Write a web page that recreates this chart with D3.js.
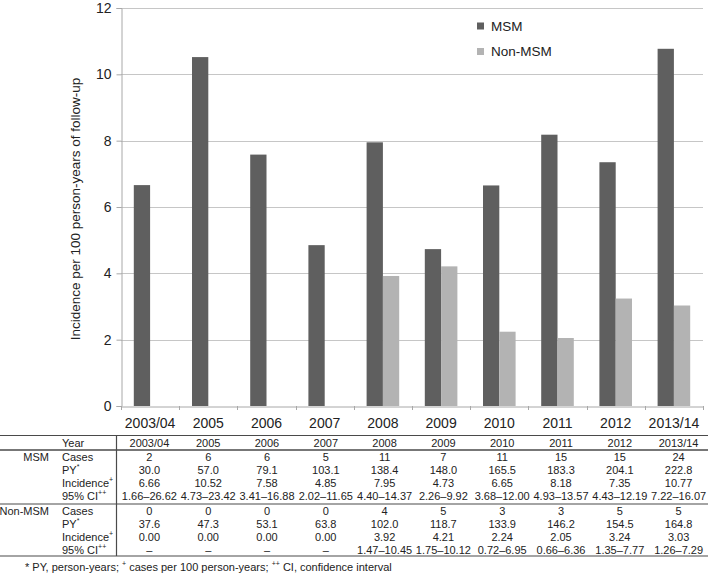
<!DOCTYPE html>
<html>
<head>
<meta charset="utf-8">
<script src="https://cdn.jsdelivr.net/npm/d3@7"></script>
<style>
  html, body { margin: 0; padding: 0; background: #fff; }
  svg { display: block; font-family: "Liberation Sans", Arial, Helvetica, sans-serif; }
</style>
</head>
<body>
<svg id="chart" width="708" height="574"></svg>
<script>
// ---------- data ----------
const years = ["2003/04", "2005", "2006", "2007", "2008", "2009", "2010", "2011", "2012", "2013/14"];
const seriesNames = ["MSM", "Non-MSM"];
const msmIncidence = [6.66, 10.52, 7.58, 4.85, 7.95, 4.73, 6.65, 8.18, 7.35, 10.77];
const nonMsmIncidence = [0, 0, 0, 0, 3.92, 4.21, 2.24, 2.05, 3.24, 3.03];
const yTicks = [0, 2, 4, 6, 8, 10, 12];
const yTitle = "Incidence per 100 person-years of follow-up";

const msmCases = ["2", "6", "6", "5", "11", "7", "11", "15", "15", "24"];
const msmPY = ["30.0", "57.0", "79.1", "103.1", "138.4", "148.0", "165.5", "183.3", "204.1", "222.8"];
const msmInc = ["6.66", "10.52", "7.58", "4.85", "7.95", "4.73", "6.65", "8.18", "7.35", "10.77"];
const msmCI = ["1.66–26.62", "4.73–23.42", "3.41–16.88", "2.02–11.65", "4.40–14.37", "2.26–9.92", "3.68–12.00", "4.93–13.57", "4.43–12.19", "7.22–16.07"];
const nonCases = ["0", "0", "0", "0", "4", "5", "3", "3", "5", "5"];
const nonPY = ["37.6", "47.3", "53.1", "63.8", "102.0", "118.7", "133.9", "146.2", "154.5", "164.8"];
const nonInc = ["0.00", "0.00", "0.00", "0.00", "3.92", "4.21", "2.24", "2.05", "3.24", "3.03"];
const nonCI = ["–", "–", "–", "–", "1.47–10.45", "1.75–10.12", "0.72–6.95", "0.66–6.36", "1.35–7.77", "1.26–7.29"];
const rowLabels = [["Year", ""], ["Cases", ""], ["PY", "*"], ["Incidence", "+"], ["95% CI", "++"]];
const footnoteParts = [["* PY, person-years; ", false], ["+", true], [" cases per 100 person-years; ", false], ["++", true], [" CI, confidence interval", false]];

// ---------- setup ----------
const svg = d3.select("#chart");
const colors = { "MSM": "#5f5f5f", "Non-MSM": "#b3b3b3" };
const textColor = "#222";

const x = d3.scaleBand().domain(years).range([121, 703]).paddingInner(0).paddingOuter(0);
const y = d3.scaleLinear().domain([0, 12]).range([406, 8]);
const groupW = x.bandwidth() * 0.56;
const xs = d3.scaleBand().domain(seriesNames).range([0, groupW]);

// gridlines
svg.append("g").selectAll("line").data(yTicks.filter(d => d > 0)).join("line")
  .attr("x1", 121).attr("x2", 703)
  .attr("y1", d => Math.round(y(d)) + 0.5).attr("y2", d => Math.round(y(d)) + 0.5)
  .attr("stroke", "#c6c6c6").attr("stroke-width", 1);

// y axis
const yAxis = d3.axisLeft(y).tickValues(yTicks).tickSize(5).tickPadding(5).tickFormat(d3.format("d"));
const gy = svg.append("g").attr("transform", "translate(121.5,0)").call(yAxis);
gy.select(".domain").attr("stroke", "#a8a8a8");
gy.selectAll(".tick line").attr("stroke", "#a8a8a8");
gy.selectAll(".tick text").attr("fill", textColor).style("font-size", "14px")
  .style("font-family", "'Liberation Sans', Arial, sans-serif");

// bars
const data = years.map((yr, i) => ({ year: yr, values: [
  { s: "MSM", v: msmIncidence[i] }, { s: "Non-MSM", v: nonMsmIncidence[i] }] }));
const groups = svg.append("g").selectAll("g").data(data).join("g")
  .attr("transform", d => `translate(${x(d.year) + (x.bandwidth() - groupW) / 2},0)`);
groups.selectAll("rect").data(d => d.values.filter(e => e.v > 0)).join("rect")
  .attr("x", d => xs(d.s)).attr("width", xs.bandwidth())
  .attr("y", d => y(d.v)).attr("height", d => y(0) - y(d.v))
  .attr("fill", d => colors[d.s]);

// x axis
const xAxis = d3.axisBottom(x).tickSize(0).tickPadding(12);
const gx = svg.append("g").attr("transform", `translate(0,${y(0) + 0.5})`).call(xAxis);
gx.select(".domain").attr("stroke", "#a8a8a8");
gx.selectAll(".tick text").attr("fill", textColor).style("font-size", "14px")
  .style("font-family", "'Liberation Sans', Arial, sans-serif");
// boundary ticks
const bounds = years.map(d => x(d)).concat([x.range()[1]]);
svg.append("g").selectAll("line").data(bounds).join("line")
  .attr("x1", d => Math.round(d) + 0.5).attr("x2", d => Math.round(d) + 0.5)
  .attr("y1", y(0)).attr("y2", y(0) + 4)
  .attr("stroke", "#a8a8a8");

// y title
svg.append("text")
  .attr("transform", "translate(75,209) rotate(-90)")
  .attr("text-anchor", "middle").attr("dominant-baseline", "central")
  .attr("fill", textColor).style("font-size", "13.5px")
  .text(yTitle);

// legend
const leg = svg.append("g").selectAll("g").data(seriesNames).join("g")
  .attr("transform", (d, i) => `translate(477,${26 + i * 25.5})`);
leg.append("rect").attr("x", 0).attr("y", -3.5).attr("width", 7).attr("height", 7)
  .attr("fill", d => colors[d]);
leg.append("text").attr("x", 14).attr("y", 0).attr("dominant-baseline", "central")
  .attr("fill", textColor).style("font-size", "13.5px").text(d => d);

// ---------- table ----------
const tcol = d3.scaleBand().domain(years).range([120, 708]);
const tbl = svg.append("g").style("font-size", "11px").attr("fill", textColor);
const lineColor = "#4a4a4a";
[[435.5, 1.2], [450, 1.6], [504, 1.2], [556, 1.2]].forEach(([yy, w]) => {
  tbl.append("line").attr("x1", 0).attr("x2", 708).attr("y1", yy).attr("y2", yy)
    .attr("stroke", lineColor).attr("stroke-width", w);
});
tbl.append("line").attr("x1", 116.5).attr("x2", 116.5).attr("y1", 435.5).attr("y2", 556)
  .attr("stroke", lineColor).attr("stroke-width", 1.2);

const rowYs = { year: 443, msm: [456.5, 469.5, 482.5, 496], non: [510.5, 523.5, 537, 550] };

function rowLabel(lbl, yy) {
  const t = tbl.append("text").attr("x", 62).attr("y", yy).attr("dominant-baseline", "central");
  t.append("tspan").text(lbl[0]);
  if (lbl[1]) t.append("tspan").attr("dy", -4).style("font-size", "7px").text(lbl[1]);
}
function rowValues(vals, yy) {
  tbl.append("g").selectAll("text").data(vals).join("text")
    .attr("x", (d, i) => tcol(years[i]) + tcol.bandwidth() / 2)
    .attr("y", yy).attr("text-anchor", "middle").attr("dominant-baseline", "central")
    .text(d => d);
}
rowLabel(rowLabels[0], rowYs.year);
rowValues(years, rowYs.year);
const msmRows = [msmCases, msmPY, msmInc, msmCI];
const nonRows = [nonCases, nonPY, nonInc, nonCI];
msmRows.forEach((vals, i) => { rowLabel(rowLabels[i + 1], rowYs.msm[i]); rowValues(vals, rowYs.msm[i]); });
nonRows.forEach((vals, i) => { rowLabel(rowLabels[i + 1], rowYs.non[i]); rowValues(vals, rowYs.non[i]); });
tbl.append("text").attr("x", 49).attr("y", rowYs.msm[0]).attr("text-anchor", "end")
  .attr("dominant-baseline", "central").text("MSM");
tbl.append("text").attr("x", 49).attr("y", rowYs.non[0]).attr("text-anchor", "end")
  .attr("dominant-baseline", "central").text("Non-MSM");

// footnote
const fn = tbl.append("text").attr("x", 25).attr("y", 566.5).attr("dominant-baseline", "central");
let raised = false;
footnoteParts.forEach(([txt, sup]) => {
  const ts = fn.append("tspan").text(txt);
  if (sup && !raised) { ts.attr("dy", -4).style("font-size", "7px"); raised = true; }
  else if (sup) { ts.style("font-size", "7px"); }
  else if (raised) { ts.attr("dy", 4); raised = false; }
});
</script>
</body>
</html>
